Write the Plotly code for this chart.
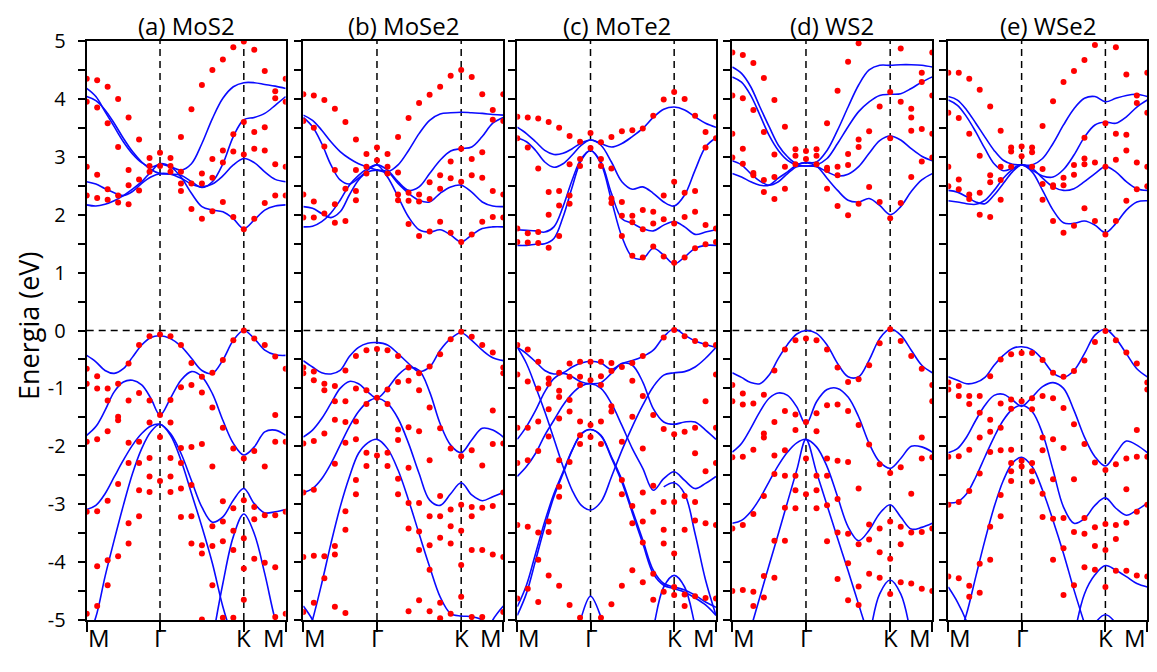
import plotly.graph_objects as go

# ---------------- data ----------------
# k-path positions (path index units: M=0, Gamma=7, K=15, M=19)
K_BAND = [0, 0.875, 1.75, 2.625, 3.5, 4.375, 5.25, 6.125, 7, 8, 9, 10, 11, 12, 13, 14, 15, 16, 17, 18, 19]
K_DOT = list(range(20))
TICK_K = [0, 7, 15, 19]
TICK_LABELS = ["M", "Γ", "K", "M"]
TITLES = ["(a) MoS2", "(b) MoSe2", "(c) MoTe2", "(d) WS2", "(e) WSe2"]
N = None

mos2_bands = [
    [2.17, 2.15, 2.18, 2.24, 2.33, 2.44, 2.57, 2.74, 2.88, 2.83, 2.65, 2.37, 2.14, 2.08, 2.05, 1.93, 1.76, 1.91, 2.08, 2.15, 2.17],
    [2.57, 2.53, 2.45, 2.38, 2.33, 2.40, 2.54, 2.65, 2.71, 2.70, 2.63, 2.53, 2.48, 2.53, 2.67, 2.86, 2.97, 2.90, 2.74, 2.61, 2.57],
    [4.04, 3.97, 3.81, 3.58, 3.32, 3.09, 2.91, 2.78, 2.71, 2.70, 2.68, 2.57, 2.47, 2.57, 2.88, 3.35, 3.64, 3.68, 3.75, 3.89, 4.04],
    [4.18, 4.04, 3.78, 3.52, 3.26, 3.05, 2.90, 2.82, 2.87, 2.83, 2.77, 2.88, 3.23, 3.66, 4.01, 4.21, 4.28, 4.28, 4.25, 4.22, 4.18],
    [-0.43, -0.54, -0.69, -0.74, -0.66, -0.46, -0.25, -0.12, -0.09, -0.14, -0.27, -0.48, -0.69, -0.74, -0.51, -0.17, 0.0, -0.14, -0.34, -0.42, -0.43],
    [-1.81, -1.66, -1.38, -1.06, -0.89, -0.86, -0.94, -1.17, -1.46, -1.17, -0.86, -0.71, -0.80, -1.09, -1.55, -1.95, -2.15, -2.01, -1.75, -1.72, -1.81],
    [-3.09, -3.02, -2.82, -2.53, -2.24, -1.98, -1.78, -1.65, -1.62, -1.78, -2.12, -2.59, -3.05, -3.31, -3.22, -2.93, -2.73, -2.99, -3.15, -3.13, -3.09],
    [-5.35, -4.95, -4.25, -3.62, -3.02, -2.47, -2.04, -1.75, -1.62, -1.81, -2.24, -2.81, -3.39, -4.02, -4.77, -5.35, N, N, N, N, N],
    [N, N, N, N, N, N, N, N, N, N, N, N, N, -5.35, -4.37, -3.56, -3.17, -3.51, -4.20, -5.0, -5.58],
]
mos2_dots = [
    [4.35, 3.95, 2.83, 2.33, -0.66, -0.92, -1.92, -3.13, -4.89],
    [4.32, 3.85, 2.69, 2.29, -0.79, -1.00, -1.88, -3.12, -4.07, -4.76],
    [4.21, 3.58, 2.44, 2.26, -1.00, -1.21, -1.74, -2.94, -3.97, -4.40],
    [4.00, 3.17, 2.33, 2.21, -0.92, -1.49, -1.55, -2.65, -3.90],
    [3.68, 2.77, 2.51, 2.18, -0.57, -1.21, -1.94, -2.29, -3.33, -3.68],
    [3.30, 2.61, 2.42, -0.25, -1.08, -1.92, -2.29, -2.76, -3.21],
    [2.98, 2.84, 2.74, -0.10, -1.21, -1.59, -2.20, -2.52, -2.79],
    [3.07, 2.84, -0.07, -1.46, -1.84, -2.60],
    [2.98, 2.84, 2.74, -0.10, -1.20, -1.59, -2.20, -2.52, -2.79],
    [3.34, 2.74, 2.54, 2.41, -0.25, -0.98, -2.03, -2.29, -2.73, -3.22],
    [3.82, 2.54, 2.10, -0.56, -0.94, -2.01, -2.67, -3.21, -3.68],
    [4.24, 2.71, 2.54, 1.93, -0.80, -1.07, -1.96, -3.71, -3.85, -4.99],
    [4.50, 2.96, 2.64, 2.06, -0.73, -1.33, -2.35, -3.38, -3.72, -4.40],
    [4.68, 3.11, 2.90, 2.22, -0.51, -1.68, -2.95, -3.30, -3.64, -4.96],
    [4.89, 3.39, 3.09, 1.96, -0.17, -2.04, -3.07, -3.46, -3.79, -4.96],
    [4.99, 3.60, 3.04, 1.75, 0.0, -2.21, -2.93, -3.59, -4.11, -4.65],
    [4.85, 3.43, 3.14, 1.93, -0.14, -2.08, -3.05, -3.26, -3.94],
    [4.48, 3.51, 3.11, 2.20, -0.25, -2.35, -3.19, -4.01],
    [4.13, 4.01, 2.87, 2.33, -0.45, -1.46, -1.92, -3.19, -4.09, -4.95],
    [4.35, 3.95, 2.83, 2.33, -0.66, -1.92, -3.13, -4.89],
]

mose2_bands = [
    [1.79, 1.80, 1.88, 2.03, 2.25, 2.51, 2.68, 2.80, 2.86, 2.65, 2.31, 1.96, 1.74, 1.70, 1.74, 1.65, 1.53, 1.65, 1.76, 1.79, 1.79],
    [2.14, 2.11, 2.02, 1.95, 2.05, 2.34, 2.60, 2.74, 2.77, 2.74, 2.54, 2.37, 2.25, 2.22, 2.37, 2.48, 2.51, 2.39, 2.22, 2.15, 2.14],
    [3.68, 3.52, 3.23, 2.86, 2.60, 2.53, 2.63, 2.77, 2.86, 2.77, 2.57, 2.42, 2.48, 2.71, 2.94, 3.10, 3.14, 3.17, 3.35, 3.58, 3.68],
    [3.72, 3.63, 3.46, 3.26, 3.09, 2.97, 2.88, 2.82, 2.77, 2.74, 2.86, 3.11, 3.40, 3.63, 3.74, 3.76, 3.77, 3.76, 3.75, 3.73, 3.72],
    [-0.52, -0.63, -0.73, -0.75, -0.69, -0.45, -0.29, -0.22, -0.21, -0.25, -0.40, -0.57, -0.71, -0.63, -0.34, -0.14, -0.04, -0.17, -0.34, -0.47, -0.52],
    [-1.84, -1.72, -1.52, -1.26, -1.00, -0.88, -0.92, -1.06, -1.17, -1.00, -0.77, -0.64, -0.69, -1.06, -1.61, -1.98, -2.11, -1.89, -1.69, -1.72, -1.84],
    [-2.80, -2.73, -2.56, -2.30, -1.98, -1.66, -1.40, -1.23, -1.17, -1.26, -1.52, -1.95, -2.47, -2.93, -3.02, -2.82, -2.63, -2.84, -2.94, -2.87, -2.80],
    [-5.52, -5.00, -4.37, -3.68, -3.05, -2.53, -2.12, -1.94, -1.88, -2.04, -2.41, -2.93, -3.51, -4.08, -4.60, -4.89, -4.93, -4.94, -5.00, -5.23, -5.52],
    [-4.76, -5.0, -5.4, N, N, N, N, N, N, N, N, N, N, N, N, N, N, N, -5.4, -5.0, -4.76],
]
mose2_dots = [
    [4.08, 3.62, 2.35, 1.95, -0.64, -0.74, -1.95, -2.80, -3.91, -4.86],
    [4.06, 3.50, 2.23, 1.95, -0.71, -0.86, -1.91, -2.75, -3.89, -4.70],
    [3.98, 3.18, 2.02, -0.92, -1.03, -1.78, -3.90, -4.28],
    [3.83, 2.77, 2.18, 1.86, -0.96, -1.22, -1.54, -2.30, -3.72, -3.87, -4.77],
    [3.60, 2.45, 1.89, -0.69, -1.22, -1.58, -1.94, -3.12, -3.44, -4.88],
    [3.30, 2.77, 2.41, 2.25, -0.44, -1.00, -1.57, -1.88, -2.58, -2.83],
    [3.05, 2.83, 2.71, -0.34, -1.03, -1.27, -2.11, -2.34],
    [3.16, 2.94, -0.32, -1.16, -2.16],
    [3.05, 2.83, 2.71, -0.34, -1.02, -1.27, -2.11, -2.34],
    [3.34, 2.73, 2.35, 2.25, -0.44, -0.89, -1.71, -1.89, -2.56, -2.83],
    [3.67, 2.38, 2.24, 1.84, -0.64, -0.87, -1.67, -2.37, -2.98, -3.42, -4.85],
    [3.93, 2.35, 2.23, 1.63, -0.74, -1.03, -1.74, -2.98, -3.47, -3.79, -4.66],
    [4.07, 2.56, 2.27, 1.71, -0.62, -1.33, -2.24, -3.21, -3.71, -4.13, -4.85],
    [4.21, 2.68, 2.45, 1.88, -0.41, -1.69, -2.86, -3.21, -3.58, -4.70, -4.97],
    [4.40, 2.92, 2.63, 1.69, -0.15, -2.04, -3.09, -3.38, -3.68, -4.89],
    [4.50, 3.14, 2.57, 1.53, -0.02, -2.17, -3.01, -3.46, -4.05, -4.60],
    [4.38, 2.96, 2.68, 1.66, -0.11, -2.07, -3.05, -3.21, -3.79, -4.95],
    [4.08, 3.08, 2.64, 1.88, -0.25, -2.33, -3.06, -3.79, -4.95],
    [3.81, 3.64, 2.41, 1.96, -0.38, -1.38, -1.96, -3.03, -3.87],
    [4.08, 3.62, 2.35, 1.95, -0.64, -0.74, -1.95, -2.80, -3.91, -4.86],
]

mote2_bands = [
    [1.47, 1.47, 1.49, 1.50, 1.59, 1.96, 2.48, 2.94, 3.11, 2.88, 2.25, 1.62, 1.27, 1.24, 1.42, 1.30, 1.15, 1.27, 1.42, 1.47, 1.47],
    [1.74, 1.73, 1.72, 1.70, 1.79, 2.14, 2.60, 2.97, 3.11, 2.91, 2.37, 1.93, 1.85, 1.76, 1.72, 1.82, 1.88, 1.79, 1.66, 1.70, 1.74],
    [3.33, 3.26, 3.11, 2.91, 2.82, 2.88, 3.03, 3.20, 3.29, 3.20, 2.91, 2.57, 2.44, 2.48, 2.37, 2.22, 2.15, 2.34, 2.77, 3.17, 3.33],
    [3.51, 3.40, 3.26, 3.11, 3.04, 3.06, 3.14, 3.24, 3.29, 3.23, 3.17, 3.23, 3.35, 3.49, 3.68, 3.82, 3.86, 3.81, 3.69, 3.58, 3.51],
    [-0.29, -0.40, -0.54, -0.69, -0.75, -0.73, -0.63, -0.56, -0.53, -0.56, -0.67, -0.57, -0.52, -0.45, -0.34, -0.11, 0.03, -0.08, -0.18, -0.24, -0.29],
    [-1.88, -1.66, -1.38, -1.06, -0.83, -0.74, -0.80, -0.89, -0.92, -0.90, -0.74, -0.57, -0.60, -0.89, -1.35, -1.58, -1.62, -1.58, -1.58, -1.72, -1.88],
    [-0.29, -0.57, -0.97, -1.40, -1.87, -2.35, -2.76, -3.02, -3.10, -2.96, -2.53, -2.07, -1.66, -1.29, -0.97, -0.77, -0.73, -0.71, -0.63, -0.48, -0.29],
    [-2.52, -2.35, -2.12, -1.81, -1.55, -1.29, -1.09, -0.96, -0.92, -1.00, -1.26, -1.64, -2.04, -2.38, -2.76, -2.56, -2.44, -2.59, -2.73, -2.64, -2.52],
    [-4.92, -4.54, -3.97, -3.39, -2.87, -2.47, -2.07, -1.78, -1.71, -1.81, -2.18, -2.58, -3.10, -3.62, -4.14, -4.37, -4.43, -4.48, -4.57, -4.69, -4.78],
    [-4.77, -4.40, -3.85, -3.30, -2.82, -2.44, -2.06, -1.79, -1.71, -1.82, -2.20, -2.62, -3.15, -3.68, -4.20, -4.40, -4.46, -4.52, -4.62, -4.74, -4.92],
    [N, N, N, N, N, N, -5.6, -4.95, -4.59, -4.95, -5.6, N, N, N, N, N, N, N, N, N, N],
    [N, N, N, N, N, N, N, N, N, N, N, N, N, -6.0, -5.15, -4.43, -4.23, -4.43, -5.1, -5.9, N],
    [N, N, N, N, N, N, N, N, N, N, N, N, N, N, N, -2.70, -2.63, -2.82, -3.51, -4.31, -4.92],
]
mote2_dots = [
    [3.69, 3.32, 1.76, 1.53, -0.25, -0.76, -1.68, -2.29, -3.36, -4.63],
    [3.68, 3.16, 1.68, 1.52, -0.33, -0.88, -1.68, -2.24, -3.39, -4.46],
    [3.66, 2.80, 1.70, 1.51, -0.54, -1.00, -1.57, -2.08, -3.49, -3.96, -4.69],
    [3.60, 2.39, 2.00, 1.43, -0.83, -0.92, -1.36, -1.83, -3.30, -3.48, -4.23],
    [3.50, 2.41, 2.16, 1.63, -0.73, -1.04, -1.15, -1.52, -2.24, -2.70, -2.87, -4.41],
    [3.36, 2.87, 2.33, 2.19, -0.57, -0.80, -1.20, -1.40, -2.27, -4.74],
    [3.26, 2.96, 2.84, -0.54, -0.80, -0.94, -1.57, -1.81, -1.96, -4.96],
    [3.41, 3.15, -0.54, -0.86, -1.63, -1.84],
    [3.25, 2.96, 2.84, -0.54, -0.79, -0.94, -1.57, -1.96, -4.96],
    [3.34, 2.80, 2.28, 2.20, -0.56, -0.70, -1.31, -1.40, -4.73],
    [3.44, 2.22, 1.98, 1.63, -0.63, -1.92, -2.58, -2.83, -4.41],
    [3.46, 1.98, 1.87, 1.29, -0.56, -0.87, -1.49, -3.03, -3.33, -4.14],
    [3.49, 2.08, 1.75, 1.26, -0.44, -1.13, -2.04, -2.80, -3.30, -3.66, -4.35],
    [3.71, 2.05, 1.85, 1.45, -1.46, -2.68, -3.13, -4.20, -4.65],
    [3.99, 2.33, 1.92, 1.28, -0.12, -1.70, -2.96, -3.44, -3.68, -4.51],
    [4.12, 2.57, 1.85, 1.17, 0.01, -1.79, -2.96, -3.85, -4.43, -4.57],
    [4.00, 2.38, 1.96, 1.26, -0.10, -1.75, -2.86, -3.44, -4.56, -4.76],
    [3.71, 2.41, 2.05, 1.42, -0.18, -1.68, -2.12, -2.96, -3.28, -4.59],
    [3.43, 3.16, 1.82, 1.49, -0.24, -1.22, -2.43, -3.33, -4.62],
    [3.69, 3.32, 1.76, 1.53, -0.25, -0.76, -1.68, -2.29, -3.36, -4.63],
]

ws2_bands = [
    [2.71, 2.65, 2.57, 2.51, 2.51, 2.63, 2.74, 2.86, 2.90, 2.84, 2.63, 2.42, 2.25, 2.22, 2.28, 2.16, 2.00, 2.14, 2.40, 2.60, 2.71],
    [2.93, 2.86, 2.71, 2.58, 2.51, 2.57, 2.71, 2.83, 2.84, 2.83, 2.74, 2.67, 2.70, 2.83, 3.06, 3.28, 3.36, 3.29, 3.14, 3.01, 2.93],
    [4.38, 4.29, 4.06, 3.72, 3.37, 3.11, 2.94, 2.86, 2.84, 2.86, 2.97, 3.23, 3.52, 3.78, 3.95, 4.06, 4.08, 4.09, 4.18, 4.29, 4.38],
    [4.55, 4.44, 4.21, 3.86, 3.52, 3.20, 3.00, 2.88, 2.90, 2.91, 3.11, 3.46, 3.86, 4.24, 4.50, 4.58, 4.58, 4.59, 4.59, 4.58, 4.55],
    [-0.73, -0.81, -0.90, -0.92, -0.77, -0.48, -0.24, -0.06, 0.0, -0.05, -0.25, -0.57, -0.80, -0.80, -0.51, -0.14, 0.03, -0.08, -0.34, -0.60, -0.73],
    [-2.10, -1.95, -1.69, -1.40, -1.17, -1.08, -1.12, -1.32, -1.62, -1.23, -1.02, -1.00, -1.15, -1.49, -1.95, -2.27, -2.38, -2.21, -2.00, -2.01, -2.10],
    [-3.33, -3.28, -3.13, -2.90, -2.61, -2.33, -2.10, -1.94, -1.88, -2.01, -2.35, -2.87, -3.39, -3.63, -3.45, -3.16, -3.01, -3.22, -3.43, -3.40, -3.33],
    [-6.2, -5.70, -5.15, -4.60, -4.05, -3.51, -2.96, -2.41, -1.88, -2.45, -3.02, -3.59, -4.15, -4.73, -5.31, N, N, N, N, N, N],
    [N, N, N, N, N, N, N, N, N, N, N, N, N, N, -5.35, -4.55, -4.31, -4.55, -5.3, N, N],
]
ws2_dots = [
    [4.80, 4.06, 3.40, 2.99, -0.94, -1.22, -2.19, -3.42, -4.50],
    [4.76, 4.01, 3.14, 2.88, -1.09, -1.28, -2.18, -3.36, -4.48],
    [4.62, 3.81, 2.72, 2.68, -1.26, -2.06, -3.17, -4.51, -4.76],
    [4.36, 3.43, 2.60, 2.39, -1.11, -1.78, -1.85, -2.86, -4.24, -4.61],
    [3.98, 3.04, 2.65, 2.27, -0.69, -1.58, -2.16, -2.48, -3.63, -4.27],
    [3.52, 2.83, 2.45, -0.33, -1.39, -2.07, -2.51, -3.06, -3.63],
    [3.13, 3.02, 2.87, -0.17, -1.45, -1.72, -2.51, -2.76, -3.07],
    [3.10, 2.96, -0.14, -1.58, -2.21, -2.83],
    [3.13, 3.02, 2.87, -0.17, -1.43, -1.74, -2.51, -2.76, -3.07],
    [3.58, 2.81, 2.77, 2.45, -0.33, -1.29, -2.21, -2.51, -3.02, -3.64],
    [4.14, 2.83, 2.68, 2.15, -0.64, -1.28, -2.25, -2.91, -3.49, -4.29],
    [4.64, 3.05, 2.86, 1.99, -0.89, -1.39, -2.27, -3.51, -4.02, -4.66],
    [4.96, 3.30, 3.17, 2.19, -0.84, -1.63, -2.73, -3.69, -4.42, -4.74],
    [3.44, 2.48, -0.60, -1.97, -3.35, -3.61, -4.20],
    [3.87, 2.22, -0.22, -2.31, -3.42, -3.83, -4.27],
    [4.12, 3.32, 1.94, 0.02, -2.46, -3.30, -3.94, -4.55],
    [4.87, 3.95, 2.20, -0.18, -2.36, -3.39, -3.69, -4.35],
    [3.83, 3.68, 3.45, 2.65, -0.44, -2.82, -3.49, -4.37],
    [4.45, 4.29, 3.48, 2.92, -0.66, -1.85, -2.21, -3.48, -4.46],
    [4.80, 4.06, 3.40, 2.99, -0.94, -1.22, -2.19, -3.42, -4.50],
]

wse2_bands = [
    [2.24, 2.22, 2.19, 2.18, 2.25, 2.42, 2.63, 2.78, 2.86, 2.74, 2.42, 2.08, 1.86, 1.85, 1.89, 1.82, 1.69, 1.85, 2.08, 2.22, 2.24],
    [2.42, 2.39, 2.31, 2.22, 2.19, 2.34, 2.54, 2.74, 2.86, 2.80, 2.63, 2.48, 2.42, 2.45, 2.57, 2.71, 2.83, 2.74, 2.57, 2.45, 2.42],
    [3.98, 3.89, 3.69, 3.43, 3.14, 2.88, 2.76, 2.80, 2.86, 2.77, 2.67, 2.65, 2.78, 3.03, 3.34, 3.55, 3.60, 3.58, 3.69, 3.86, 3.98],
    [4.04, 3.98, 3.81, 3.58, 3.34, 3.11, 2.94, 2.87, 2.86, 2.86, 2.97, 3.23, 3.55, 3.83, 4.01, 4.04, 3.95, 4.01, 4.06, 4.08, 4.04],
    [-0.80, -0.86, -0.92, -0.90, -0.81, -0.60, -0.43, -0.31, -0.28, -0.33, -0.50, -0.73, -0.81, -0.69, -0.40, -0.08, 0.02, -0.14, -0.40, -0.66, -0.80],
    [-2.11, -2.04, -1.84, -1.55, -1.29, -1.12, -1.10, -1.20, -1.31, -1.15, -0.97, -0.90, -1.00, -1.38, -1.84, -2.18, -2.34, -2.12, -1.91, -1.98, -2.11],
    [-2.98, -2.96, -2.82, -2.53, -2.18, -1.84, -1.55, -1.36, -1.29, -1.40, -1.78, -2.41, -3.05, -3.33, -3.25, -3.02, -2.89, -3.07, -3.19, -3.10, -2.98],
    [-5.69, -5.35, -4.89, -4.25, -3.62, -3.05, -2.59, -2.29, -2.19, -2.35, -2.76, -3.28, -3.85, -4.48, -5.06, N, N, N, N, N, N],
    [-4.43, -4.69, -5.03, -5.58, N, N, N, N, N, N, N, N, N, N, N, N, N, N, N, N, N],
    [N, N, N, N, N, N, N, N, N, N, N, N, N, -5.3, -4.55, -4.22, -4.06, -4.14, -4.25, -4.37, -4.43],
    [N, N, N, N, N, N, N, N, N, N, N, N, N, N, -5.5, -5.06, -4.91, -5.06, -5.5, N, N],
]
wse2_dots = [
    [4.45, 3.76, 2.83, 2.49, -0.90, -1.02, -2.18, -3.01, -4.25],
    [4.45, 3.67, 2.61, 2.44, -0.96, -1.13, -2.17, -2.96, -4.28],
    [4.35, 3.40, 2.35, 2.27, -1.13, -1.27, -2.06, -2.77, -4.41, -4.60],
    [4.16, 3.02, 2.38, 2.00, -1.13, -1.42, -1.85, -2.47, -4.03, -4.53],
    [3.87, 2.68, 2.56, 1.96, -0.79, -1.54, -1.75, -2.10, -3.39, -3.96],
    [3.45, 2.83, 2.60, 2.26, -0.50, -1.26, -1.68, -2.07, -2.84, -3.21],
    [3.16, 3.09, 2.83, -0.41, -1.19, -1.35, -2.06, -2.29, -2.43, -2.60],
    [3.18, 3.01, -0.39, -1.22, -2.25, -2.35],
    [3.16, 3.08, 2.83, -0.39, -1.17, -1.36, -2.29, -2.43, -2.61],
    [3.53, 2.79, 2.53, 2.26, -0.51, -1.13, -1.85, -2.07, -2.82, -3.22],
    [3.96, 2.51, 2.48, 1.89, -0.73, -1.17, -1.88, -2.57, -3.25, -3.96],
    [4.29, 2.64, 2.51, 1.69, -0.80, -1.34, -2.03, -3.24, -3.76, -4.57],
    [4.48, 2.86, 2.69, 1.81, -0.70, -1.62, -2.57, -3.48, -4.40],
    [4.67, 3.33, 2.97, 2.87, 2.11, -0.52, -1.96, -3.24, -3.51, -4.09],
    [4.93, 2.90, 1.89, -0.20, -2.28, -3.40, -3.72, -4.13],
    [3.58, 2.83, 1.66, -0.01, -2.41, -3.34, -3.79, -4.43],
    [4.89, 3.40, 2.95, 1.89, -0.17, -2.31, -3.36, -3.60, -4.15],
    [4.42, 3.38, 3.11, 2.24, -0.38, -2.21, -2.74, -3.32, -4.15],
    [4.06, 3.93, 2.90, 2.44, -0.57, -1.72, -2.18, -3.13, -4.23],
    [4.45, 3.76, 2.83, 2.49, -0.90, -1.02, -2.18, -3.01, -4.25],
]

Y_TICKS = [v / 2 for v in range(-10, 11)]

# ---------------- figure ----------------
# page has the browser's default 8px body margin, so the figure is 16px smaller
W, H = 1141, 656
FONT = "Open Sans, Arial, sans-serif"
x_px = [(78.7, 277.7), (295.3, 495.3), (509.3, 708.0), (724.3, 924.3), (940.3, 1139.3)]
y_dom = [1 - 612 / H, 1 - 33 / H]
label_y = 1 - 629 / H

panels = [
    (mos2_bands, mos2_dots),
    (mose2_bands, mose2_dots),
    (mote2_bands, mote2_dots),
    (ws2_bands, ws2_dots),
    (wse2_bands, wse2_dots),
]

fig = go.Figure()
shapes = []
annotations = []
layout_axes = {}

for i, (bands, dots) in enumerate(panels):
    sfx = "" if i == 0 else str(i + 1)
    xr, yr = "x" + sfx, "y" + sfx
    for kx in (TICK_K[1], TICK_K[2]):
        shapes.append(dict(type="line", xref=xr, yref=yr, x0=kx, x1=kx, y0=-5, y1=5,
                           line=dict(color="black", width=1.5, dash="7px,5px"), layer="below"))
    shapes.append(dict(type="line", xref=xr, yref=yr, x0=0, x1=19, y0=0, y1=0,
                       line=dict(color="black", width=1.5, dash="7px,5px"), layer="below"))
    for b in bands:
        fig.add_trace(go.Scatter(x=K_BAND, y=b, mode="lines", xaxis=xr, yaxis=yr,
                                 line=dict(color="#0a0aff", width=1.6, shape="spline", smoothing=1.0),
                                 connectgaps=False, showlegend=False, hoverinfo="skip"))
    dx = [k for k, es in zip(K_DOT, dots) for _ in es]
    dy = [e for es in dots for e in es]
    fig.add_trace(go.Scatter(x=dx, y=dy, mode="markers", xaxis=xr, yaxis=yr,
                             marker=dict(color="#ff0000", size=6, line=dict(width=0)),
                             showlegend=False, hoverinfo="skip"))
    x0, x1 = x_px[i]
    layout_axes["xaxis" + sfx] = dict(
        domain=[x0 / W, x1 / W], range=[0, 19], anchor=yr, automargin=False,
        showline=True, linecolor="black", linewidth=2, mirror=True,
        ticks="outside", ticklen=10, tickwidth=2, tickcolor="black",
        tickvals=TICK_K, showticklabels=False,
        showgrid=False, zeroline=False, fixedrange=True)
    layout_axes["yaxis" + sfx] = dict(
        domain=y_dom, range=[-5, 5], anchor=xr, automargin=False,
        showline=True, linecolor="black", linewidth=2, mirror=True,
        ticks="outside", ticklen=7, tickwidth=2, tickcolor="black",
        tickvals=Y_TICKS,
        ticktext=[(str(int(v)) if float(v).is_integer() else "") for v in Y_TICKS],
        showticklabels=(i == 0), ticklabelstandoff=8,
        tickfont=dict(family=FONT, size=20, color="black"),
        showgrid=False, zeroline=False, fixedrange=True)
    annotations.append(dict(text=TITLES[i], xref="paper", yref="paper",
                            x=(x0 + x1) / 2 / W, y=1.0, xanchor="center", yanchor="top",
                            showarrow=False, borderpad=0,
                            font=dict(family=FONT, size=24, color="black")))
    anchors = ["left", "center", "center", "right"]
    for kx, lab, anc in zip(TICK_K, TICK_LABELS, anchors):
        annotations.append(dict(text=lab, xref=xr, yref="paper", x=kx, y=label_y,
                                xanchor=anc, yanchor="middle", showarrow=False, borderpad=0,
                                font=dict(family=FONT, size=24, color="black")))

annotations.append(dict(text="Energia (eV)", xref="paper", yref="paper", x=20 / W, y=1 - 318 / H,
                        xanchor="center", yanchor="middle", textangle=-90, showarrow=False,
                        font=dict(family=FONT, size=27, color="black")))

fig.update_layout(width=W, height=H, margin=dict(l=0, r=0, t=0, b=0, autoexpand=False),
                  paper_bgcolor="white", plot_bgcolor="white",
                  shapes=shapes, annotations=annotations, showlegend=False, **layout_axes)

fig.write_html("out.html", config={"displayModeBar": False})
